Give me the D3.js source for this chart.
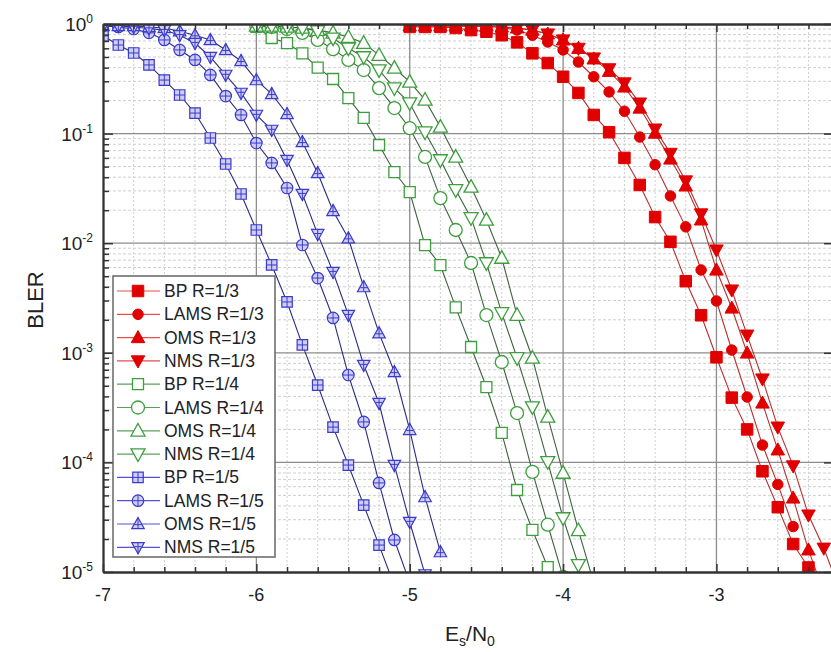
<!DOCTYPE html>
<html>
<head>
<meta charset="utf-8">
<script src="https://cdn.jsdelivr.net/npm/d3@7"></script>
<style>
  body { margin: 0; background: #fff; }
  text { font-family: Arial, "Liberation Sans", sans-serif; fill: #222; }
</style>
</head>
<body>
<svg id="chart" width="831" height="652"></svg>
<script>
// ---- Es/N0 sample points (dB) ----
const esn0_BP_R3   = [-5.0,-4.9,-4.8,-4.7,-4.6,-4.5,-4.4,-4.3,-4.2,-4.1,-4.0,-3.9,-3.8,-3.7,-3.6,-3.5,-3.4,-3.3,-3.2,-3.1,-3.0,-2.9,-2.8,-2.7,-2.6,-2.5,-2.4];
const esn0_LAMS_R3 = [-5.0,-4.9,-4.8,-4.7,-4.6,-4.5,-4.4,-4.3,-4.2,-4.1,-4.0,-3.9,-3.8,-3.7,-3.6,-3.5,-3.4,-3.3,-3.2,-3.1,-3.0,-2.9,-2.8,-2.7,-2.6,-2.5];
const esn0_OMS_R3  = [-5.0,-4.9,-4.8,-4.7,-4.6,-4.5,-4.4,-4.3,-4.2,-4.1,-4.0,-3.9,-3.8,-3.7,-3.6,-3.5,-3.4,-3.3,-3.2,-3.1,-3.0,-2.9,-2.8,-2.7,-2.6,-2.5,-2.4,-2.3];
const esn0_NMS_R3  = [-5.0,-4.9,-4.8,-4.7,-4.6,-4.5,-4.4,-4.3,-4.2,-4.1,-4.0,-3.9,-3.8,-3.7,-3.6,-3.5,-3.4,-3.3,-3.2,-3.1,-3.0,-2.9,-2.8,-2.7,-2.6,-2.5,-2.4,-2.3,-2.2];

const esn0_BP_R4   = [-6.0,-5.9,-5.8,-5.7,-5.6,-5.5,-5.4,-5.3,-5.2,-5.1,-5.0,-4.9,-4.8,-4.7,-4.6,-4.5,-4.4,-4.3,-4.2,-4.1];
const esn0_LAMS_R4 = [-6.0,-5.9,-5.8,-5.7,-5.6,-5.5,-5.4,-5.3,-5.2,-5.1,-5.0,-4.9,-4.8,-4.7,-4.6,-4.5,-4.4,-4.3,-4.2,-4.1,-4.0];
const esn0_OMS_R4  = [-6.0,-5.9,-5.8,-5.7,-5.6,-5.5,-5.4,-5.3,-5.2,-5.1,-5.0,-4.9,-4.8,-4.7,-4.6,-4.5,-4.4,-4.3,-4.2,-4.1,-4.0,-3.9,-3.8];
const esn0_NMS_R4  = [-6.0,-5.9,-5.8,-5.7,-5.6,-5.5,-5.4,-5.3,-5.2,-5.1,-5.0,-4.9,-4.8,-4.7,-4.6,-4.5,-4.4,-4.3,-4.2,-4.1,-4.0,-3.9];

const esn0_BP_R5   = [-7.0,-6.9,-6.8,-6.7,-6.6,-6.5,-6.4,-6.3,-6.2,-6.1,-6.0,-5.9,-5.8,-5.7,-5.6,-5.5,-5.4,-5.3,-5.2,-5.1];
const esn0_LAMS_R5 = [-7.0,-6.9,-6.8,-6.7,-6.6,-6.5,-6.4,-6.3,-6.2,-6.1,-6.0,-5.9,-5.8,-5.7,-5.6,-5.5,-5.4,-5.3,-5.2,-5.1,-5.0];
const esn0_OMS_R5  = [-7.0,-6.9,-6.8,-6.7,-6.6,-6.5,-6.4,-6.3,-6.2,-6.1,-6.0,-5.9,-5.8,-5.7,-5.6,-5.5,-5.4,-5.3,-5.2,-5.1,-5.0,-4.9,-4.8];
const esn0_NMS_R5  = [-7.0,-6.9,-6.8,-6.7,-6.6,-6.5,-6.4,-6.3,-6.2,-6.1,-6.0,-5.9,-5.8,-5.7,-5.6,-5.5,-5.4,-5.3,-5.2,-5.1,-5.0,-4.9];

// ---- BLER values ----
const bler_BP_R3   = [0.94,0.94,0.94,0.92,0.88,0.85,0.79,0.68,0.54,0.44,0.33,0.235,0.148,0.103,0.060,0.034,0.0173,0.0103,0.0045,0.0022,9.1e-4,3.9e-4,2.0e-4,8.3e-5,3.9e-5,1.8e-5,1.1e-5];
const bler_LAMS_R3 = [0.96,0.96,0.96,0.96,0.95,0.95,0.93,0.88,0.79,0.685,0.58,0.45,0.33,0.24,0.16,0.093,0.052,0.027,0.0141,0.0057,0.00297,0.00106,3.95e-4,1.44e-4,6.3e-5,2.6e-5];
const bler_OMS_R3  = [0.96,0.96,0.96,0.96,0.96,0.96,0.94,0.92,0.88,0.81,0.715,0.60,0.48,0.37,0.266,0.171,0.101,0.0586,0.0333,0.0163,0.00569,0.00256,9.95e-4,3.48e-4,1.30e-4,4.73e-5,1.59e-5,6.5e-6];
const bler_NMS_R3  = [0.96,0.96,0.96,0.96,0.96,0.96,0.94,0.92,0.88,0.81,0.715,0.60,0.49,0.39,0.29,0.19,0.11,0.066,0.037,0.0185,0.00867,0.00374,0.00145,5.77e-4,2.1e-4,9.3e-5,3.31e-5,1.65e-5,7e-6];

const bler_BP_R4   = [0.94,0.745,0.67,0.54,0.40,0.315,0.211,0.139,0.0787,0.0446,0.0293,0.0096,0.0063,0.0026,0.00113,4.87e-4,1.86e-4,5.6e-5,2.42e-5,1.11e-5];
const bler_LAMS_R4 = [0.96,0.94,0.90,0.83,0.715,0.59,0.47,0.38,0.26,0.171,0.112,0.0612,0.0258,0.0132,0.0066,0.00221,8.24e-4,2.82e-4,8.2e-5,2.7e-5,9e-6];
const bler_OMS_R4  = [0.96,0.96,0.94,0.92,0.88,0.83,0.76,0.67,0.52,0.397,0.296,0.203,0.115,0.0612,0.0326,0.0163,0.00733,0.00221,8.97e-4,2.6e-4,8.0e-5,2.4e-5,8e-6];
const bler_NMS_R4  = [0.96,0.96,0.94,0.92,0.86,0.74,0.60,0.50,0.38,0.26,0.19,0.103,0.0574,0.0306,0.017,0.0066,0.00231,8.97e-4,3.2e-4,1.01e-4,3.11e-5,1.16e-5];

const bler_BP_R5   = [0.78,0.643,0.544,0.423,0.308,0.225,0.154,0.0912,0.0528,0.0281,0.0132,0.00633,0.00291,0.00118,5.08e-4,2.1e-4,9.46e-5,4.08e-5,1.76e-5,7.5e-6];
const bler_LAMS_R5 = [0.96,0.94,0.90,0.83,0.715,0.58,0.47,0.343,0.22,0.148,0.082,0.054,0.0319,0.00963,0.00481,0.00208,6.27e-4,2.34e-4,6.5e-5,1.96e-5,8e-6];
const bler_OMS_R5  = [0.96,0.96,0.96,0.94,0.92,0.86,0.79,0.715,0.58,0.46,0.308,0.23,0.151,0.0838,0.0437,0.0197,0.0111,0.00398,0.00151,6.68e-4,1.98e-4,4.83e-5,1.52e-5];
const bler_NMS_R5  = [0.96,0.96,0.94,0.91,0.88,0.79,0.67,0.50,0.343,0.235,0.148,0.108,0.0574,0.0281,0.0121,0.00546,0.00221,7.74e-4,3.48e-4,9.46e-5,2.86e-5,9.5e-6];

// ---- axis settings ----
const xTicks = [-7, -6, -5, -4, -3];
const yExponents = [0, -1, -2, -3, -4, -5];
const seriesNames = ["BP R=1/3","LAMS R=1/3","OMS R=1/3","NMS R=1/3",
                     "BP R=1/4","LAMS R=1/4","OMS R=1/4","NMS R=1/4",
                     "BP R=1/5","LAMS R=1/5","OMS R=1/5","NMS R=1/5"];

const groups = {
  r3: { stroke: "#e00000", fill: "#e00000", line: "#b83030", legendLine: "#e65050", sw: 1,
        size: { square: 11.5, circle: 10.5, up: 13.5, down: 13.5 }, cross: false },
  r4: { stroke: "#3d9e3d", fill: "#ffffff", line: "#3f633f", legendLine: "#5aa05a", sw: 1.3,
        size: { square: 11, circle: 13, up: 14, down: 14 }, cross: false },
  r5: { stroke: "#3a3acb", fill: "#cfcff5", line: "#2c2c80", legendLine: "#5252d6", sw: 1.2,
        size: { square: 10.5, circle: 11.5, up: 12.5, down: 12.5 }, cross: true }
};

const series = [
  { name: seriesNames[0],  g: "r3", shape: "square", xs: esn0_BP_R3,   ys: bler_BP_R3 },
  { name: seriesNames[1],  g: "r3", shape: "circle", xs: esn0_LAMS_R3, ys: bler_LAMS_R3 },
  { name: seriesNames[2],  g: "r3", shape: "up",     xs: esn0_OMS_R3,  ys: bler_OMS_R3 },
  { name: seriesNames[3],  g: "r3", shape: "down",   xs: esn0_NMS_R3,  ys: bler_NMS_R3 },
  { name: seriesNames[4],  g: "r4", shape: "square", xs: esn0_BP_R4,   ys: bler_BP_R4 },
  { name: seriesNames[5],  g: "r4", shape: "circle", xs: esn0_LAMS_R4, ys: bler_LAMS_R4 },
  { name: seriesNames[6],  g: "r4", shape: "up",     xs: esn0_OMS_R4,  ys: bler_OMS_R4 },
  { name: seriesNames[7],  g: "r4", shape: "down",   xs: esn0_NMS_R4,  ys: bler_NMS_R4 },
  { name: seriesNames[8],  g: "r5", shape: "square", xs: esn0_BP_R5,   ys: bler_BP_R5 },
  { name: seriesNames[9],  g: "r5", shape: "circle", xs: esn0_LAMS_R5, ys: bler_LAMS_R5 },
  { name: seriesNames[10], g: "r5", shape: "up",     xs: esn0_OMS_R5,  ys: bler_OMS_R5 },
  { name: seriesNames[11], g: "r5", shape: "down",   xs: esn0_NMS_R5,  ys: bler_NMS_R5 }
];

// ---- layout ----
const plot = { left: 103, right: 833, top: 24, bottom: 572 };
const svg = d3.select("#chart");
const x = d3.scaleLinear().domain([-7, -2.24]).range([plot.left, plot.right]);
const y = d3.scaleLog().domain([1e-5, 1]).range([plot.bottom, plot.top]);

svg.append("defs").append("clipPath").attr("id", "plotClip")
  .append("rect").attr("x", plot.left).attr("y", plot.top)
  .attr("width", plot.right - plot.left).attr("height", plot.bottom - plot.top);

// ---- grid ----
const grid = svg.append("g");
const minorX = d3.range(-70, -22, 2).map(v => v / 10).filter(v => !Number.isInteger(v));
const minorY = [];
yExponents.slice(0, -1).forEach(e => { for (let k = 2; k <= 9; k++) minorY.push(k * Math.pow(10, e - 1)); });

grid.selectAll(".mx").data(minorX).join("line")
  .attr("x1", d => x(d)).attr("x2", d => x(d)).attr("y1", plot.top).attr("y2", plot.bottom)
  .attr("stroke", "#cfcfcf").attr("stroke-width", 1).attr("stroke-dasharray", "2,2");
grid.selectAll(".my").data(minorY).join("line")
  .attr("x1", plot.left).attr("x2", plot.right).attr("y1", d => y(d)).attr("y2", d => y(d))
  .attr("stroke", "#cfcfcf").attr("stroke-width", 1).attr("stroke-dasharray", "3,2");
grid.selectAll(".Mx").data(xTicks.slice(1)).join("line")
  .attr("x1", d => x(d)).attr("x2", d => x(d)).attr("y1", plot.top).attr("y2", plot.bottom)
  .attr("stroke", "#8c8c8c").attr("stroke-width", 1.3);
grid.selectAll(".My").data(yExponents.slice(1, -1)).join("line")
  .attr("x1", plot.left).attr("x2", plot.right).attr("y1", d => y(Math.pow(10, d))).attr("y2", d => y(Math.pow(10, d)))
  .attr("stroke", "#8c8c8c").attr("stroke-width", 1.3);

// ---- marker shapes ----
function shapePath(shape, s) {
  const h = s / 2;
  if (shape === "square") return `M${-h},${-h}H${h}V${h}H${-h}Z`;
  if (shape === "circle") return `M${h},0A${h},${h} 0 1,1 ${-h},0A${h},${h} 0 1,1 ${h},0Z`;
  if (shape === "up") return `M0,${-h * 1.05}L${h},${h * 0.75}L${-h},${h * 0.75}Z`;
  return `M0,${h * 1.05}L${h},${-h * 0.75}L${-h},${-h * 0.75}Z`;
}
function crossPath(shape, s) {
  const h = s / 2;
  if (shape === "up") return `M0,${-h * 1.05}V${h * 0.75}M${-h * 0.55},${h * 0.1}H${h * 0.55}`;
  if (shape === "down") return `M0,${h * 1.05}V${-h * 0.75}M${-h * 0.55},${-h * 0.1}H${h * 0.55}`;
  return `M${-h},0H${h}M0,${-h}V${h}`;
}
function drawMarker(sel, s) {
  const st = groups[s.g], sz = st.size[s.shape];
  sel.append("path").attr("d", shapePath(s.shape, sz))
    .attr("fill", st.fill).attr("stroke", st.stroke).attr("stroke-width", st.sw);
  if (st.cross) sel.append("path").attr("d", crossPath(s.shape, sz))
    .attr("fill", "none").attr("stroke", st.stroke).attr("stroke-width", 1);
}

// ---- curves ----
const plotArea = svg.append("g").attr("clip-path", "url(#plotClip)");
const lineGen = d3.line().x(d => x(d[0])).y(d => y(d[1]));
series.forEach(s => {
  const pts = s.xs.map((v, i) => [v, s.ys[i]]);
  plotArea.append("path").datum(pts).attr("d", lineGen)
    .attr("fill", "none").attr("stroke", groups[s.g].line).attr("stroke-width", 1.1);
});
series.forEach(s => {
  const pts = s.xs.map((v, i) => [v, s.ys[i]]);
  plotArea.append("g").selectAll("g").data(pts).join("g")
    .attr("transform", d => `translate(${x(d[0])},${y(d[1])})`)
    .each(function () { drawMarker(d3.select(this), s); });
});

// ---- axes ----
const axisColor = "#333";
function styleAxis(g) {
  g.select(".domain").attr("stroke", axisColor).attr("stroke-width", 1.8);
  g.selectAll(".tick line").attr("stroke", axisColor).attr("stroke-width", 1.5);
  g.selectAll(".tick text").remove();
}
svg.append("g").attr("transform", `translate(0,${plot.bottom})`)
  .call(d3.axisBottom(x).tickValues(minorX).tickSize(-5).tickSizeOuter(0)).call(styleAxis);
svg.append("g").attr("transform", `translate(0,${plot.bottom})`)
  .call(d3.axisBottom(x).tickValues(xTicks).tickSize(-8).tickSizeOuter(0)).call(styleAxis);
svg.append("g").attr("transform", `translate(0,${plot.top})`)
  .call(d3.axisTop(x).tickValues(minorX).tickSize(-5).tickSizeOuter(0)).call(styleAxis);
svg.append("g").attr("transform", `translate(0,${plot.top})`)
  .call(d3.axisTop(x).tickValues(xTicks).tickSize(-8).tickSizeOuter(0)).call(styleAxis);
svg.append("g").attr("transform", `translate(${plot.left},0)`)
  .call(d3.axisLeft(y).tickValues(minorY).tickSize(-6).tickSizeOuter(0)).call(styleAxis);
svg.append("g").attr("transform", `translate(${plot.left},0)`)
  .call(d3.axisLeft(y).tickValues(yExponents.map(e => Math.pow(10, e))).tickSize(-10).tickSizeOuter(0)).call(styleAxis);
svg.append("g").attr("transform", `translate(${plot.right},0)`)
  .call(d3.axisRight(y).tickValues(yExponents.map(e => Math.pow(10, e))).tickSize(-9).tickSizeOuter(0)).call(styleAxis);

// tick labels
svg.append("g").selectAll("text").data(xTicks).join("text")
  .attr("x", d => x(d)).attr("y", 601).attr("text-anchor", "middle")
  .attr("font-size", 18).text(d => d);
const yl = svg.append("g").selectAll("text").data(yExponents).join("text")
  .attr("x", 93).attr("y", d => y(Math.pow(10, d)) + 7).attr("text-anchor", "end").attr("font-size", 19);
yl.append("tspan").text("10");
yl.append("tspan").attr("dy", -8).attr("font-size", 12).text(d => d);

// axis titles
svg.append("text").attr("transform", "translate(43,300) rotate(-90)")
  .attr("text-anchor", "middle").attr("font-size", 22).text("BLER");
const xt = svg.append("text").attr("x", 470).attr("y", 641).attr("text-anchor", "middle").attr("font-size", 21);
xt.append("tspan").text("E");
xt.append("tspan").attr("dy", 5).attr("font-size", 14).text("s");
xt.append("tspan").attr("dy", -5).text("/N");
xt.append("tspan").attr("dy", 5).attr("font-size", 14).text("0");

// ---- legend ----
const leg = svg.append("g");
leg.append("rect").attr("x", 113).attr("y", 276).attr("width", 162).attr("height", 281)
  .attr("fill", "#fff").attr("stroke", "#666").attr("stroke-width", 1.5);
const rows = leg.selectAll("g.row").data(series).join("g")
  .attr("transform", (d, i) => `translate(0,${291 + i * 23.3})`);
rows.append("line").attr("x1", 117).attr("x2", 160).attr("y1", 0).attr("y2", 0)
  .attr("stroke", d => groups[d.g].legendLine).attr("stroke-width", 1.2);
rows.append("g").attr("transform", "translate(138,0)").each(function (d) { drawMarker(d3.select(this), d); });
rows.append("text").attr("x", 164).attr("y", 6).attr("font-size", 17.5).text(d => d.name);
</script>
</body>
</html>
